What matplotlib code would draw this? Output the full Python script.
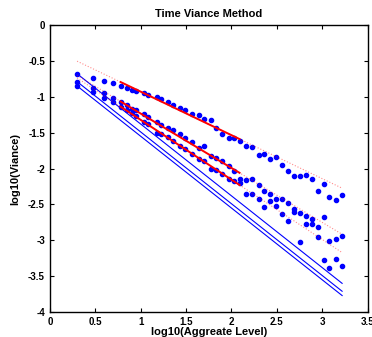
import matplotlib
matplotlib.use('Agg')
import matplotlib.pyplot as plt
import numpy as np

# log10 of aggregation level
log_m = [0.30, 0.48, 0.60, 0.70, 0.78, 0.85, 0.90, 0.95, 1.04, 1.08,
         1.18, 1.23, 1.30, 1.36, 1.43, 1.49, 1.57, 1.64, 1.70, 1.77,
         1.83, 1.90, 1.97, 2.03, 2.09, 2.16, 2.23, 2.30, 2.36, 2.42,
         2.49, 2.56, 2.62, 2.69, 2.76, 2.82, 2.89, 2.95, 3.02, 3.08,
         3.15, 3.22]

# log10 of variance for three traces
var_a = [-0.68, -0.74, -0.78, -0.81, -0.85, -0.88, -0.90, -0.92, -0.95, -0.98,
         -1.01, -1.03, -1.08, -1.11, -1.16, -1.19, -1.24, -1.26, -1.31, -1.32,
         -1.43, -1.52, -1.58, -1.58, -1.62, -1.68, -1.70, -1.81, -1.80, -1.87,
         -1.84, -1.95, -2.03, -2.10, -2.10, -2.09, -2.14, -2.31, -2.21, -2.40,
         -2.44, -2.37]
var_b = [-0.79, -0.88, -0.95, -1.02, -1.07, -1.12, -1.17, -1.19, -1.245, -1.28,
         -1.35, -1.39, -1.43, -1.46, -1.52, -1.57, -1.63, -1.71, -1.68, -1.82,
         -1.86, -1.90, -1.97, -2.04, -2.14, -2.16, -2.14, -2.23, -2.31, -2.36,
         -2.43, -2.43, -2.48, -2.56, -2.62, -2.66, -2.71, -2.82, -2.67, -3.01,
         -2.98, -2.94]
var_c = [-0.85, -0.94, -1.02, -1.08, -1.15, -1.18, -1.22, -1.27, -1.35, -1.38,
         -1.50, -1.52, -1.56, -1.61, -1.68, -1.73, -1.80, -1.87, -1.90, -2.00,
         -2.02, -2.07, -2.14, -2.18, -2.20, -2.36, -2.35, -2.43, -2.53, -2.45,
         -2.52, -2.63, -2.73, -2.60, -3.02, -2.78, -2.78, -2.95, -3.28, -3.38,
         -3.26, -3.36]

# fitted lines (slope, intercept)
fit_slopes = [-0.606, -0.758, -0.833]
fit_intercepts = [-0.323, -0.476, -0.489]
fit_range = (0.78, 2.09)
ref_slope = -1.0  # H = 0.5 reference

plt.rcParams['font.family'] = ['Liberation Sans', 'DejaVu Sans']
plt.rcParams['font.weight'] = 'bold'

fig = plt.figure(figsize=(3.72, 3.37), dpi=100)
ax = fig.add_axes([0.134, 0.074, 0.854, 0.852])

x = np.array(log_m)
x_fit = np.array(fit_range)
x_all = np.array([x[0], x[-1]])

for ys, k, b in zip([var_a, var_b, var_c], fit_slopes, fit_intercepts):
    ax.plot(x, ys, '.', color='blue', markersize=6)
    ax.plot(x_all, k * x_all + b, ':', color='red', lw=0.8, alpha=0.45)
    ax.plot(x_fit, k * x_fit + b, '-', color='red', lw=1.4)
    ax.plot(x_all, ys[0] + ref_slope * (x_all - x[0]), '-', color='blue', lw=0.8)

ax.set_xlim(0, 3.5)
ax.set_ylim(-4, 0)
ax.set_xticks(np.arange(0, 3.51, 0.5))
ax.set_xticklabels(['0', '0.5', '1', '1.5', '2', '2.5', '3', '3.5'])
ax.set_yticks(np.arange(-4, 0.01, 0.5))
ax.set_yticklabels(['-4', '-3.5', '-3', '-2.5', '-2', '-1.5', '-1', '-0.5', '0'])
ax.tick_params(direction='in', length=3, labelsize=7, top=True, right=True, width=0.8)
for s in ax.spines.values():
    s.set_linewidth(1.0)

ax.set_title('Time Viance Method', fontsize=8, fontweight='bold', pad=6)
ax.set_xlabel('log10(Aggreate Level)', fontsize=8, fontweight='bold', labelpad=0)
ax.set_ylabel('log10(Viance)', fontsize=8, fontweight='bold', labelpad=6)

fig.savefig('out.png', dpi=100)
